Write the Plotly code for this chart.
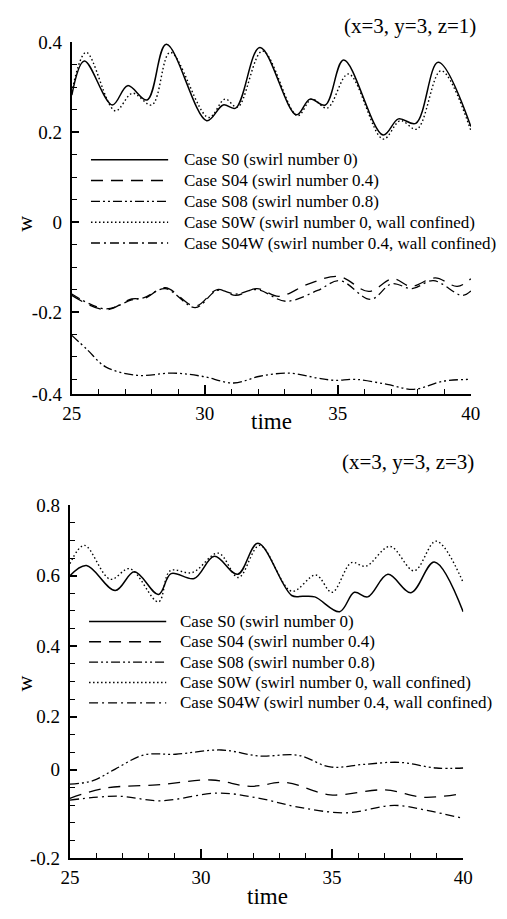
import plotly.graph_objects as go

# ---------------- data: top panel (x=3, y=3, z=1) ----------------
t_top_S0 = [25.0, 25.47, 26.52, 27.10, 27.83, 28.55, 30.07, 30.69, 31.16, 32.07, 33.44, 33.95, 34.53, 35.22, 36.70, 37.28, 37.93, 38.77, 40.0]
w_top_S0 = [0.283, 0.359, 0.261, 0.304, 0.272, 0.396, 0.226, 0.261, 0.254, 0.389, 0.239, 0.274, 0.261, 0.361, 0.194, 0.230, 0.220, 0.356, 0.213]

t_top_S0W = [25.0, 25.54, 26.63, 27.28, 28.01, 28.70, 30.14, 30.76, 31.23, 32.17, 33.48, 34.02, 34.60, 35.40, 36.70, 37.35, 37.97, 38.88, 40.0]
w_top_S0W = [0.290, 0.378, 0.248, 0.287, 0.261, 0.378, 0.233, 0.274, 0.256, 0.381, 0.237, 0.274, 0.254, 0.330, 0.185, 0.226, 0.207, 0.337, 0.204]

t_top_S04 = [25.0, 26.27, 27.25, 27.72, 28.51, 29.64, 30.47, 31.16, 31.96, 32.79, 33.88, 35.04, 36.16, 37.07, 37.75, 38.66, 39.49, 40.0]
w_top_S04 = [-0.163, -0.195, -0.171, -0.170, -0.146, -0.187, -0.150, -0.163, -0.148, -0.165, -0.138, -0.121, -0.154, -0.126, -0.143, -0.124, -0.143, -0.126]

t_top_S04W = [25.0, 26.27, 27.25, 27.72, 28.51, 29.64, 30.47, 31.16, 31.96, 33.04, 34.24, 35.07, 36.23, 37.03, 37.79, 38.59, 39.67, 40.0]
w_top_S04W = [-0.160, -0.193, -0.173, -0.168, -0.148, -0.190, -0.152, -0.160, -0.150, -0.176, -0.152, -0.130, -0.172, -0.137, -0.148, -0.130, -0.163, -0.153]

t_top_S08 = [25.0, 25.6, 26.27, 27.46, 28.80, 29.89, 31.09, 32.07, 33.15, 34.24, 34.86, 35.69, 36.85, 37.86, 38.95, 40.0]
w_top_S08 = [-0.252, -0.285, -0.322, -0.341, -0.336, -0.343, -0.358, -0.343, -0.336, -0.347, -0.352, -0.350, -0.361, -0.372, -0.354, -0.350]

# ---------------- data: bottom panel (x=3, y=3, z=3) ----------------
t_bot_S0 = [25.0, 25.63, 26.73, 27.46, 28.38, 28.86, 29.74, 30.51, 31.40, 32.17, 33.46, 33.90, 34.34, 35.29, 35.85, 36.36, 37.13, 38.01, 38.90, 40.0]
w_bot_S0 = [0.600, 0.629, 0.558, 0.611, 0.547, 0.606, 0.592, 0.655, 0.604, 0.692, 0.544, 0.542, 0.540, 0.498, 0.553, 0.540, 0.604, 0.552, 0.639, 0.498]

t_bot_S0W = [25.0, 25.55, 26.54, 27.28, 28.38, 28.82, 29.67, 30.66, 31.43, 32.24, 33.46, 34.38, 35.00, 35.74, 36.29, 37.21, 38.13, 38.97, 40.0]
w_bot_S0W = [0.634, 0.686, 0.590, 0.620, 0.526, 0.614, 0.609, 0.664, 0.595, 0.686, 0.556, 0.602, 0.553, 0.637, 0.627, 0.683, 0.614, 0.698, 0.581]

t_bot_S08 = [25.0, 25.88, 26.73, 27.83, 29.04, 30.77, 32.24, 33.71, 34.93, 36.18, 37.57, 38.97, 40.0]
w_bot_S08 = [0.009, 0.019, 0.052, 0.092, 0.094, 0.106, 0.089, 0.091, 0.058, 0.065, 0.071, 0.055, 0.055]

t_bot_S04 = [25.0, 26.36, 28.31, 30.40, 31.88, 33.24, 34.93, 37.02, 38.49, 40.0]
w_bot_S04 = [-0.031, -0.002, 0.007, 0.021, 0.003, 0.014, -0.021, -0.007, -0.028, -0.017]

t_bot_S04W = [25.0, 26.84, 28.46, 30.66, 32.24, 33.71, 35.53, 37.38, 38.60, 40.0]
w_bot_S04W = [-0.036, -0.025, -0.038, -0.016, -0.031, -0.056, -0.072, -0.051, -0.065, -0.088]

# ---------------- labels ----------------
legend_labels = [
    "Case S0 (swirl number 0)",
    "Case S04 (swirl number 0.4)",
    "Case S08 (swirl number 0.8)",
    "Case S0W (swirl number 0, wall confined)",
    "Case S04W (swirl number 0.4, wall confined)",
]
x_tick_vals = [25, 30, 35, 40]
x_tick_text = ["25", "30", "35", "40"]
x_minor_vals = [26, 27, 28, 29, 31, 32, 33, 34, 36, 37, 38, 39]
top_y_tick_vals = [-0.383, -0.2, 0.0, 0.2, 0.4]
top_y_tick_text = ["-0.4", "-0.2", "0", "0.2", "0.4"]
top_y_minor_vals = [-0.35, -0.3, -0.25, -0.15, -0.1, -0.05, 0.05, 0.1, 0.15, 0.25, 0.3, 0.35]
bot_y_tick_vals = [-0.2, 0.05, 0.2, 0.4, 0.6, 0.8]
bot_y_tick_text = ["-0.2", "0", "0.2", "0.4", "0.6", "0.8"]
bot_y_minor_vals = [-0.15, -0.1, -0.05, 0.0, 0.1, 0.15, 0.25, 0.3, 0.35, 0.45, 0.5, 0.55, 0.65, 0.7, 0.75]

# ---------------- styles ----------------
W, H = 507, 919
FONT = "'Liberation Serif', 'Times New Roman', Times, serif"
styles = {
    "S0": dict(dash="solid", width=1.5),
    "S04": dict(dash="12px,8px", width=1.3),
    "S08": dict(dash="9px,3px,2px,3px,2px,3px", width=1.3),
    "S0W": dict(dash="1.5px,2.5px", width=1.4),
    "S04W": dict(dash="9px,4px,2px,4px", width=1.3),
}
order = ["S0", "S04", "S08", "S0W", "S04W"]

fig = go.Figure()

def add(t, w, key, xa, ya):
    st = styles[key]
    fig.add_trace(go.Scatter(x=t, y=w, mode="lines", xaxis=xa, yaxis=ya,
                             line=dict(color="black", width=st["width"], dash=st["dash"],
                                       shape="spline", smoothing=1.0),
                             showlegend=False, hoverinfo="skip"))

add(t_top_S0, w_top_S0, "S0", "x", "y")
add(t_top_S04, w_top_S04, "S04", "x", "y")
add(t_top_S08, w_top_S08, "S08", "x", "y")
add(t_top_S0W, w_top_S0W, "S0W", "x", "y")
add(t_top_S04W, w_top_S04W, "S04W", "x", "y")

add(t_bot_S0, w_bot_S0, "S0", "x2", "y2")
add(t_bot_S04, w_bot_S04, "S04", "x2", "y2")
add(t_bot_S08, w_bot_S08, "S08", "x2", "y2")
add(t_bot_S0W, w_bot_S0W, "S0W", "x2", "y2")
add(t_bot_S04W, w_bot_S04W, "S04W", "x2", "y2")

def px(xp):
    return xp / W

def py(yp):
    return 1 - yp / H

tickfont = dict(family=FONT, size=19, color="black")

def xaxis_cfg(x0, x1, yanchor):
    return dict(domain=[px(x0), px(x1)], range=[24.995, 40.005], anchor=yanchor,
                showline=True, linecolor="black", linewidth=2, mirror=False,
                showgrid=False, zeroline=False,
                tickmode="array", tickvals=x_tick_vals, ticktext=x_tick_text,
                ticks="inside", ticklen=9, tickwidth=1.5, tickcolor="black",
                tickfont=tickfont, ticklabelstandoff=1,
                minor=dict(tickmode="array", tickvals=x_minor_vals, ticks="inside",
                           ticklen=5, tickwidth=1, tickcolor="black", showgrid=False))

def yaxis_cfg(y0, y1, rng, tv, tt, mv, xanchor):
    return dict(domain=[py(y1), py(y0)], range=rng, anchor=xanchor,
                showline=True, linecolor="black", linewidth=2, mirror=False,
                showgrid=False, zeroline=False,
                tickmode="array", tickvals=tv, ticktext=tt,
                ticks="inside", ticklen=7, tickwidth=1.5, tickcolor="black",
                tickfont=tickfont, ticklabelstandoff=4,
                minor=dict(tickmode="array", tickvals=mv, ticks="inside",
                           ticklen=5, tickwidth=1, tickcolor="black", showgrid=False))

fig.update_layout(
    width=W, height=H,
    margin=dict(l=0, r=0, t=0, b=0),
    paper_bgcolor="white", plot_bgcolor="white",
    showlegend=False,
    font=dict(family=FONT, color="black"),
    xaxis=xaxis_cfg(65, 479, "y"),
    yaxis=yaxis_cfg(33, 393, [-0.3835, 0.4005], top_y_tick_vals, top_y_tick_text, top_y_minor_vals, "x"),
    xaxis2=xaxis_cfg(63, 471, "y2"),
    yaxis2=yaxis_cfg(506, 867, [-0.2005, 0.8005], bot_y_tick_vals, bot_y_tick_text, bot_y_minor_vals, "x2"),
)

annotations = []
shapes = []

def text(x, y, s, size, xanchor="center", angle=0):
    annotations.append(dict(x=px(x), y=py(y), xref="paper", yref="paper", text=s,
                            showarrow=False, xanchor=xanchor, yanchor="middle",
                            textangle=angle, font=dict(family=FONT, size=size, color="black")))

# panel titles
text(486, 16, "(x=3, y=3, z=1)", 21, xanchor="right")
text(484, 462, "(x=3, y=3, z=3)", 21, xanchor="right")
# axis titles
text(272, 421, "time", 23)
text(268, 906, "time", 23)
text(16, 218, "w", 22, angle=-90)
text(16, 688, "w", 22, angle=-90)

# legends
def legend(x_line0, x_line1, x_text, y0, dy):
    for i, key in enumerate(order):
        yy = y0 + dy * i
        st = styles[key]
        shapes.append(dict(type="line", xref="paper", yref="paper",
                           x0=px(x_line0), x1=px(x_line1), y0=py(yy), y1=py(yy),
                           line=dict(color="black", width=st["width"], dash=st["dash"])))
        text(x_text, yy, legend_labels[i], 17, xanchor="left")

legend(85, 165, 179, 153, 21.3)
legend(83, 163, 175, 625, 20.8)

fig.update_layout(annotations=annotations, shapes=shapes)
fig.write_html("out.html")
